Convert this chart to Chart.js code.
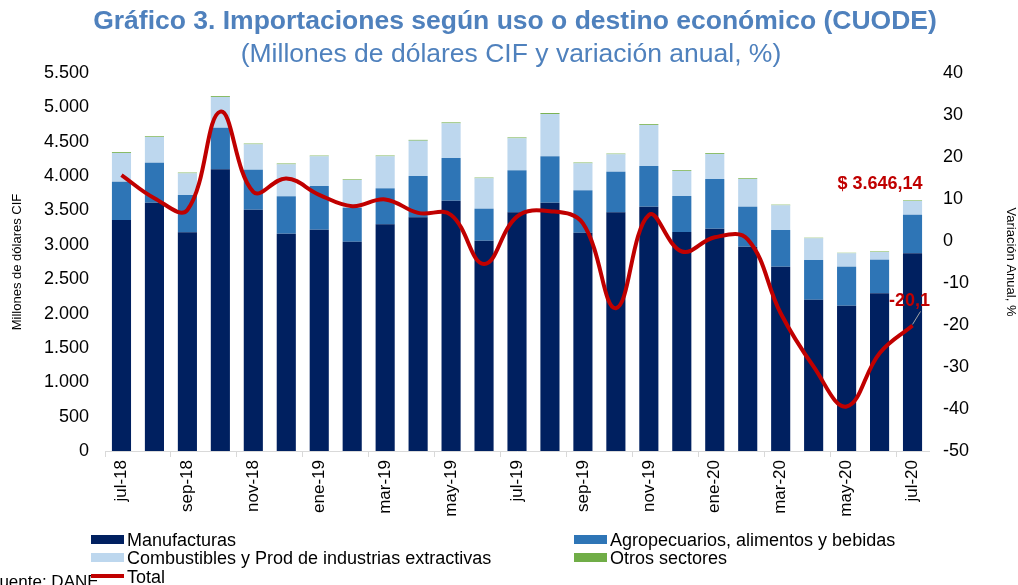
<!DOCTYPE html>
<html lang="es">
<head>
<meta charset="UTF-8" />
<script src="https://cdn.jsdelivr.net/npm/chart.js@4.4.1/dist/chart.umd.min.js"></script>
<style>
  body { margin: 0; background: #fff; font-family: "Liberation Sans", Arial, sans-serif; }
  #wrap { position: relative; width: 1018px; height: 585px; overflow: hidden; }
  #title { position: absolute; left: 0; top: 5px; width: 1030px; text-align: center; color: #4F81BD; font-weight: bold; font-size: 26.5px; }
  #subtitle { position: absolute; left: 0; top: 38px; width: 1022px; text-align: center; color: #4F81BD; font-size: 26.5px; }
  .leg { position: absolute; font-size: 18px; color: #000; line-height: 18px; white-space: nowrap; }
  .sw { display: inline-block; width: 33px; height: 9px; margin-right: 3px; vertical-align: 2px; }
  .ln { display: inline-block; width: 33px; height: 4px; margin-right: 3px; vertical-align: 5px; background: #C00000; }
  #fuente { position: absolute; left: -11px; top: 572px; font-size: 17px; }
</style>
</head>
<body>
<div id="wrap">
  <canvas id="chart" width="1018" height="585"></canvas>
  <div id="title">Gráfico 3. Importaciones según uso o destino económico (CUODE)</div>
  <div id="subtitle">(Millones de dólares CIF y variación anual, %)</div>
  <div id="fuente">Fuente: DANE</div>
  <div class="leg" style="left:91px; top:531px"><span class="sw" style="background:#002060"></span>Manufacturas</div>
  <div class="leg" style="left:574px; top:531px"><span class="sw" style="background:#2E75B6"></span>Agropecuarios, alimentos y bebidas</div>
  <div class="leg" style="left:91px; top:549px"><span class="sw" style="background:#BDD7EE"></span>Combustibles y Prod de industrias extractivas</div>
  <div class="leg" style="left:574px; top:549px"><span class="sw" style="background:#70AD47"></span>Otros sectores</div>
  <div class="leg" style="left:91px; top:568px"><span class="ln"></span>Total</div>
</div>
<script>
  // data
  const months = ['jul-18','ago-18','sep-18','oct-18','nov-18','dic-18','ene-19','feb-19','mar-19','abr-19','may-19','jun-19',
    'jul-19','ago-19','sep-19','oct-19','nov-19','dic-19','ene-20','feb-20','mar-20','abr-20','may-20','jun-20','jul-20'];
  const manufacturas = [3361,3613,3182,4099,3511,3162,3220,3045,3298,3400,3642,3060,3473,3613,3176,3473,3555,3186,3235,2973,2682,2201,2114,2295,2877];
  const agropecuarios = [557,582,543,605,582,544,636,495,524,601,621,466,611,675,617,591,592,524,723,582,534,578,568,489,561];
  const combustibles = [418,374,315,447,369,465,432,403,466,514,505,442,466,615,393,253,596,364,363,403,359,316,195,111,200];
  const otros = [12,10,11,12,11,12,10,9,11,12,13,10,12,14,11,10,12,11,12,10,9,8,7,8,8];
  const variacion = [15.7,10.2,7.4,30.8,11.7,14.9,11.0,8.3,9.9,6.7,6.2,-5.5,5.8,7.1,4.2,-16.0,6.2,-2.5,0.9,0.4,-17.2,-29.9,-39.4,-26.7,-20.1];
  const totalLabel = '$ 3.646,14';
  const varLabel = '-20,1';

  function miles(v) {
    return String(v).replace(/\B(?=(\d{3})+(?!\d))/g, '.');
  }

  const font = "'Liberation Sans', Arial, sans-serif";

  // red labels at the last month
  const notes = {
    id: 'notes',
    afterDatasetsDraw(chart) {
      const ctx = chart.ctx;
      const i = months.length - 1;
      const x = chart.scales.x.getPixelForValue(i);
      const top = chart.scales.y.getPixelForValue(manufacturas[i] + agropecuarios[i] + combustibles[i] + otros[i]);
      const yl = chart.scales.y2.getPixelForValue(variacion[i]);
      ctx.save();
      ctx.fillStyle = '#C00000';
      ctx.font = 'bold 18px ' + font;
      ctx.textAlign = 'right';
      ctx.textBaseline = 'middle';
      ctx.fillText(totalLabel, x + 10, top - 16);
      ctx.textAlign = 'center';
      ctx.fillText(varLabel, x - 3, yl - 24);
      ctx.strokeStyle = '#A6A6A6';
      ctx.lineWidth = 1;
      ctx.beginPath();
      ctx.moveTo(x, yl - 1);
      ctx.lineTo(x + 8, yl - 14);
      ctx.stroke();
      ctx.restore();
    }
  };

  const barOpts = { categoryPercentage: 1, barPercentage: 0.58, yAxisID: 'y', stack: 's', order: 2 };

  new Chart(document.getElementById('chart'), {
    data: {
      labels: months,
      datasets: [
        { type: 'line', label: 'Total', data: variacion, yAxisID: 'y2', borderColor: '#C00000', borderWidth: 4,
          pointRadius: 0, tension: 0.4, order: 1 },
        Object.assign({ type: 'bar', label: 'Manufacturas', data: manufacturas, backgroundColor: '#002060' }, barOpts),
        Object.assign({ type: 'bar', label: 'Agropecuarios, alimentos y bebidas', data: agropecuarios, backgroundColor: '#2E75B6' }, barOpts),
        Object.assign({ type: 'bar', label: 'Combustibles y Prod de industrias extractivas', data: combustibles, backgroundColor: '#BDD7EE' }, barOpts),
        Object.assign({ type: 'bar', label: 'Otros sectores', data: otros, backgroundColor: '#70AD47' }, barOpts)
      ]
    },
    options: {
      responsive: false,
      animation: false,
      layout: { padding: { top: 73, left: 10, right: 0, bottom: 0 } },
      plugins: { legend: { display: false }, tooltip: { enabled: false } },
      scales: {
        x: {
          stacked: true,
          grid: {
            display: true, drawOnChartArea: false, offset: true, tickLength: 6,
            color: c => (c.index % 2 === 0 ? '#D9D9D9' : 'rgba(0,0,0,0)')
          },
          border: { color: '#D9D9D9' },
          ticks: {
            autoSkip: false, maxRotation: 90, minRotation: 90, color: '#000',
            font: { size: 17, family: font },
            callback: function (v, i) { return i % 2 === 0 ? months[i] : ''; }
          },
          afterFit(s) { s.height = 134; }
        },
        y: {
          position: 'left', stacked: true, min: 0, max: 5500,
          grid: { display: false }, border: { display: false },
          ticks: { stepSize: 500, color: '#000', font: { size: 18, family: font }, padding: 8, callback: v => miles(v) },
          title: { display: true, text: 'Millones de dólares CIF', color: '#000', font: { size: 13, family: font }, padding: 0 },
          afterFit(s) { s.width = 95; }
        },
        y2: {
          position: 'right', min: -50, max: 40,
          grid: { display: false }, border: { display: false },
          ticks: { stepSize: 10, color: '#000', font: { size: 18, family: font }, padding: 6 },
          title: { display: true, text: 'Variación Anual, %', color: '#000', font: { size: 13, family: font }, padding: 0 },
          afterFit(s) { s.width = 89; }
        }
      }
    },
    plugins: [notes]
  });
</script>
</body>
</html>
